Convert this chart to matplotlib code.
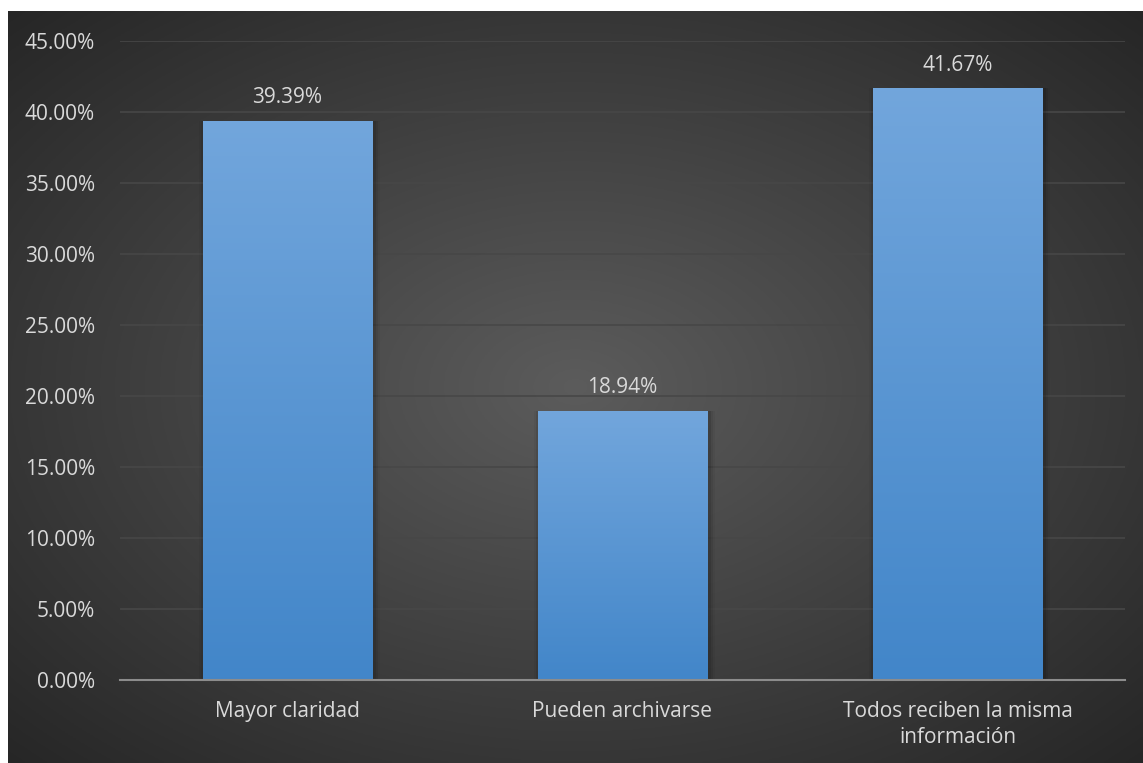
import matplotlib.pyplot as plt
import numpy as np
from matplotlib.ticker import PercentFormatter

CATEGORIES = ['Mayor claridad', 'Pueden archivarse', 'Todos reciben la misma\ninformación']
VALUES = [39.39, 18.94, 41.67]
LABELS = ['39.39%', '18.94%', '41.67%']

TEXT = '#d9d9d9'
plt.rcParams['font.family'] = ['Open Sans', 'DejaVu Sans']

fig = plt.figure(figsize=(11.43, 7.63), dpi=100)
fig.patch.set_facecolor('white')

# dark radial-gradient backdrop (leaves white strip at top/left)
bg = fig.add_axes([8 / 1143, 0, 1 - 8 / 1143, 1 - 11 / 763])
yy, xx = np.mgrid[-1:1:300j, -1:1:400j]
r = np.sqrt(xx ** 2 + yy ** 2) / np.sqrt(2)
grad = 0.36 - 0.21 * r
bg.imshow(np.dstack([grad, grad, grad]), aspect='auto', extent=[0, 1, 0, 1])
bg.axis('off')

ax = fig.add_axes([120 / 1143, (763 - 680) / 763, (1125 - 120) / 1143, (680 - 41) / 763])
ax.patch.set_alpha(0)
x = np.arange(len(CATEGORIES))
bars = ax.bar(x, VALUES, width=0.505, color='#5b9bd5', zorder=3)

# vertical gradient on each bar + soft shadow
g = np.linspace(0, 1, 256).reshape(-1, 1)
top = np.array([0.447, 0.651, 0.863])
bot = np.array([0.259, 0.525, 0.788])
img = bot + (top - bot) * g
img = img.reshape(256, 1, 3)
for b in bars:
    x0, w, h = b.get_x(), b.get_width(), b.get_height()
    for k, a in enumerate([0.10, 0.07, 0.04]):
        ax.bar(x0 + w / 2 + 0.006, h, width=w + 0.012 * (k + 1), bottom=0,
               color='black', alpha=a, zorder=2, linewidth=0)
    im = ax.imshow(img, extent=[x0, x0 + w, 0, h], origin='lower', aspect='auto', zorder=4)
    im.set_clip_path(b)

for xi, v, lab in zip(x, VALUES, LABELS):
    ax.text(xi, v + 0.9, lab, ha='center', va='bottom', color=TEXT, fontsize=15, zorder=5)

ax.set_xlim(-0.5, 2.5)
ax.set_ylim(0, 45)
ax.set_yticks(np.arange(0, 46, 5))
ax.yaxis.set_major_formatter(PercentFormatter(decimals=2))
ax.grid(axis='y', color='#474747', linewidth=1.2, zorder=0)
ax.set_xticks(x)
ax.set_xticklabels(CATEGORIES, color=TEXT, fontsize=15, linespacing=1.35)
ax.tick_params(axis='y', colors=TEXT, labelsize=15, length=0, pad=18)
ax.tick_params(axis='x', length=0, pad=15)
for s in ['top', 'right', 'left']:
    ax.spines[s].set_visible(False)
ax.spines['bottom'].set_color('#8c8c8c')
ax.spines['bottom'].set_linewidth(1.5)
ax.spines['bottom'].set_zorder(6)

fig.savefig('out.png', dpi=100)
